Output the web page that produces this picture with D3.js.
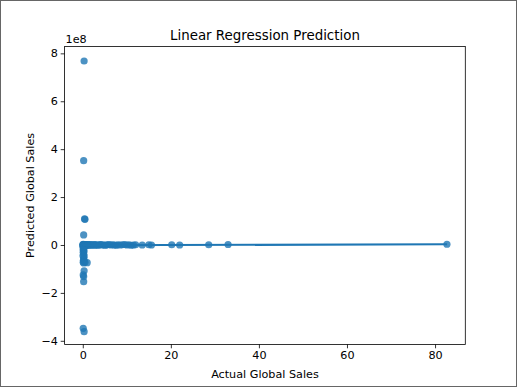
<!DOCTYPE html>
<html><head><meta charset="utf-8">
<script src="https://cdn.jsdelivr.net/npm/d3@7"></script>
<style>
html,body{margin:0;padding:0;background:#fff;}
svg{display:block;font-family:"DejaVu Sans",sans-serif;}
</style></head>
<body><svg id="c" width="517" height="387"></svg>
<script>
// Actual vs predicted global sales (predicted in raw units)
const actualOutliers = [0.3, 0.2, 0.4, 0.5, 0.2, 0.1, 0.3, 0.1, 0.5, 1.0, 0.2, 0.3, 0.1, 0.2, 0.2, 0.1, 0.3];
const predictedOutliers = [7.68e8, 3.52e8, 1.09e8, 1.07e8, 0.42e8, -0.2e8, -0.45e8, -0.72e8, -0.72e8, -0.74e8, -0.75e8, -1.08e8, -1.25e8, -1.32e8, -1.53e8, -3.48e8, -3.62e8];
const actualColumn = [0.05, 0.1, 0.2, 0.15, 0.3, 0.1, 0.2, 0.05, 0.25, 0.2, 0.15, 0.3];
const predictedColumn = [-0.05e8, -0.1e8, -0.15e8, -0.2e8, -0.25e8, -0.3e8, -0.38e8, -0.45e8, -0.52e8, -0.58e8, -0.64e8, -0.68e8];
const actualBand = [0.02,0.05,0.1,0.15,0.2,0.3,0.4,0.5,0.6,0.7,0.8,0.9,1.0,1.1,1.2,1.3,1.5,1.6,1.8,2.0,2.2,2.4,2.6,2.8,3.0,3.2,3.5,3.8,4.0,4.3,4.6,5.0,5.3,5.6,6.0,6.4,6.8,7.2,7.6,8.0,8.5,9.0,9.5,10.0,10.5,11.0,11.5,12.0,13.5,15.0,15.6,20.2,22.0,28.6,33.0,82.7];
const predictedBand = [0.02e8,-0.02e8,0.03e8,0.01e8,-0.01e8,0.02e8,0.0,0.01e8,-0.02e8,0.02e8,0.0,0.01e8,-0.01e8,0.02e8,0.01e8,0.0,-0.01e8,0.02e8,0.01e8,0.0,0.01e8,-0.01e8,0.02e8,0.0,0.01e8,0.0,-0.01e8,0.01e8,0.02e8,0.0,0.01e8,-0.01e8,0.0,0.01e8,0.02e8,0.0,0.01e8,0.0,-0.01e8,0.01e8,0.0,0.01e8,0.02e8,0.0,0.01e8,-0.01e8,0.0,0.01e8,0.0,0.01e8,0.0,0.01e8,0.0,0.01e8,0.02e8,0.03e8];
const regX = [0.01, 82.74];
const regY = [-0.01e8, 0.03e8];
const xTicks = [0, 20, 40, 60, 80];
const yTicks = [-4e8, -2e8, 0, 2e8, 4e8, 6e8, 8e8];

const svg = d3.select("#c");
const W = 517, H = 387;
const m = {l: 64.6, r: 465.3, t: 46.4, b: 344.4};

svg.append("rect").attr("x",0.5).attr("y",0.5).attr("width",W-1).attr("height",H-1)
  .attr("fill","#fff").attr("stroke","#666").attr("stroke-width",1);

const x = d3.scaleLinear().domain([-4.13, 86.87]).range([m.l, m.r]);
const y = d3.scaleLinear().domain([-4.15e8, 8.29e8]).range([m.b, m.t]);

const pts = [];
actualBand.forEach((v,i)=>pts.push([v, predictedBand[i]]));
actualColumn.forEach((v,i)=>pts.push([v, predictedColumn[i]]));
actualOutliers.forEach((v,i)=>pts.push([v, predictedOutliers[i]]));

const g = svg.append("g");
g.selectAll("circle").data(pts).join("circle")
  .attr("cx", d=>x(d[0])).attr("cy", d=>y(d[1])).attr("r", 3.6)
  .attr("fill", "#1f77b4").attr("fill-opacity", 0.8);

svg.append("path").datum(regX.map((v,i)=>[v, regY[i]]))
  .attr("d", d3.line().x(d=>x(d[0])).y(d=>y(d[1])))
  .attr("stroke", "#1f77b4").attr("stroke-width", 2.2).attr("fill","none");

// axes frame
svg.append("rect").attr("x", m.l).attr("y", m.t).attr("width", m.r-m.l).attr("height", m.b-m.t)
  .attr("fill","none").attr("stroke","#000").attr("stroke-width",0.8);

const fmtY = d => { const v = d/1e8; return v < 0 ? "\u2212" + Math.abs(v) : String(v); };
const xa = svg.append("g").attr("transform", `translate(0,${m.b})`)
  .call(d3.axisBottom(x).tickValues(xTicks).tickSize(3.9).tickPadding(2.8).tickFormat(d=>String(d)));
const ya = svg.append("g").attr("transform", `translate(${m.l},0)`)
  .call(d3.axisLeft(y).tickValues(yTicks).tickSize(3.9).tickPadding(2.8).tickFormat(fmtY));
[xa, ya].forEach(a=>{
  a.select(".domain").remove();
  a.selectAll("line").attr("stroke","#000").attr("stroke-width",0.8);
  a.selectAll("text").attr("font-size","11.2px").attr("fill","#000").attr("font-family","DejaVu Sans");
});

svg.append("text").attr("x", m.l+1).attr("y", 43).attr("font-size","11.2px").text("1e8");
svg.append("text").attr("x", (m.l+m.r)/2).attr("y", 39.8).attr("text-anchor","middle")
  .attr("font-size","13.4px").text("Linear Regression Prediction");
svg.append("text").attr("x", (m.l+m.r)/2).attr("y", 378).attr("text-anchor","middle")
  .attr("font-size","11.2px").text("Actual Global Sales");
svg.append("text").attr("transform", `translate(34,${(m.t+m.b)/2}) rotate(-90)`).attr("text-anchor","middle")
  .attr("font-size","11.2px").text("Predicted Global Sales");
</script></body></html>
